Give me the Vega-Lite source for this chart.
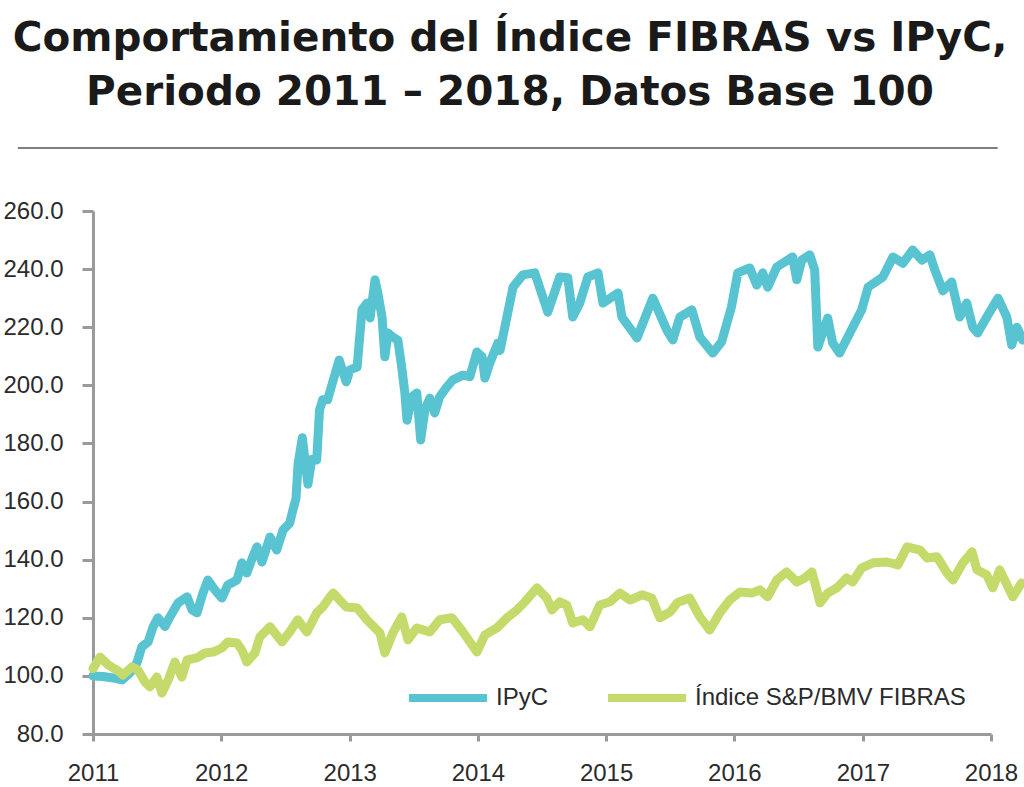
{
  "$schema": "https://vega.github.io/schema/vega-lite/v6.json",
  "autosize": {"type": "none"},
  "width": 898,
  "height": 523,
  "padding": {"left": 93, "top": 211, "right": 33, "bottom": 53},
  "background": "white",
  "title": {
    "text": ["Comportamiento del Índice FIBRAS vs IPyC,", "Periodo 2011 – 2018, Datos Base 100"],
    "font": "DejaVu Sans",
    "fontWeight": "bold",
    "fontSize": 40.5,
    "lineHeight": 54,
    "color": "#1a1a1a",
    "anchor": "middle",
    "dx": -32,
    "offset": 34
  },
  "config": {
    "view": {"stroke": null},
    "axis": {
      "domainColor": "#9a9a9a",
      "domainWidth": 3,
      "tickColor": "#9a9a9a",
      "tickWidth": 3,
      "grid": false,
      "labelFont": "Liberation Sans",
      "labelFontSize": 24,
      "labelColor": "#2b2b2b",
      "title": null
    },
    "legend": {
      "labelFont": "Liberation Sans",
      "labelFontSize": 24,
      "labelColor": "#2b2b2b",
      "labelLimit": 500
    }
  },
  "layer": [
    {
      "data": {"values": [{"x1": "2010-06-01", "x2": "2018-01-20", "y": 281.7}]},
      "mark": {"type": "rule", "color": "#555555", "strokeWidth": 1.5, "clip": false},
      "encoding": {
        "x": {"field": "x1", "type": "temporal", "scale": {"type": "utc"}},
        "x2": {"field": "x2"},
        "y": {"field": "y", "type": "quantitative"}
      }
    },
    {
      "data": {"values": [
        {"fecha": "2011-01-01", "serie": "IPyC", "valor": 100.0},
        {"fecha": "2011-01-29", "serie": "IPyC", "valor": 99.8},
        {"fecha": "2011-02-27", "serie": "IPyC", "valor": 99.3},
        {"fecha": "2011-03-25", "serie": "IPyC", "valor": 98.6},
        {"fecha": "2011-04-16", "serie": "IPyC", "valor": 101.0},
        {"fecha": "2011-05-06", "serie": "IPyC", "valor": 104.5},
        {"fecha": "2011-05-20", "serie": "IPyC", "valor": 110.0},
        {"fecha": "2011-06-07", "serie": "IPyC", "valor": 111.7},
        {"fecha": "2011-06-21", "serie": "IPyC", "valor": 116.9},
        {"fecha": "2011-07-05", "serie": "IPyC", "valor": 120.0},
        {"fecha": "2011-07-25", "serie": "IPyC", "valor": 117.0},
        {"fecha": "2011-08-08", "serie": "IPyC", "valor": 120.3},
        {"fecha": "2011-08-31", "serie": "IPyC", "valor": 125.1},
        {"fecha": "2011-09-26", "serie": "IPyC", "valor": 127.2},
        {"fecha": "2011-10-10", "serie": "IPyC", "valor": 122.7},
        {"fecha": "2011-10-24", "serie": "IPyC", "valor": 121.7},
        {"fecha": "2011-11-10", "serie": "IPyC", "valor": 128.5},
        {"fecha": "2011-11-24", "serie": "IPyC", "valor": 133.0},
        {"fecha": "2011-12-14", "serie": "IPyC", "valor": 129.6},
        {"fecha": "2012-01-03", "serie": "IPyC", "valor": 126.8},
        {"fecha": "2012-01-20", "serie": "IPyC", "valor": 131.3},
        {"fecha": "2012-02-15", "serie": "IPyC", "valor": 133.0},
        {"fecha": "2012-02-29", "serie": "IPyC", "valor": 138.9},
        {"fecha": "2012-03-14", "serie": "IPyC", "valor": 135.4},
        {"fecha": "2012-03-31", "serie": "IPyC", "valor": 141.0},
        {"fecha": "2012-04-12", "serie": "IPyC", "valor": 144.4},
        {"fecha": "2012-04-26", "serie": "IPyC", "valor": 139.2},
        {"fecha": "2012-05-19", "serie": "IPyC", "valor": 147.8},
        {"fecha": "2012-06-07", "serie": "IPyC", "valor": 143.3},
        {"fecha": "2012-06-25", "serie": "IPyC", "valor": 150.2},
        {"fecha": "2012-07-14", "serie": "IPyC", "valor": 152.6},
        {"fecha": "2012-07-23", "serie": "IPyC", "valor": 157.0},
        {"fecha": "2012-08-01", "serie": "IPyC", "valor": 161.0},
        {"fecha": "2012-08-07", "serie": "IPyC", "valor": 173.0},
        {"fecha": "2012-08-19", "serie": "IPyC", "valor": 182.0},
        {"fecha": "2012-08-27", "serie": "IPyC", "valor": 174.0},
        {"fecha": "2012-09-04", "serie": "IPyC", "valor": 166.0},
        {"fecha": "2012-09-15", "serie": "IPyC", "valor": 174.5},
        {"fecha": "2012-09-29", "serie": "IPyC", "valor": 174.3},
        {"fecha": "2012-10-07", "serie": "IPyC", "valor": 191.5},
        {"fecha": "2012-10-16", "serie": "IPyC", "valor": 195.0},
        {"fecha": "2012-10-30", "serie": "IPyC", "valor": 195.0},
        {"fecha": "2012-11-18", "serie": "IPyC", "valor": 203.0},
        {"fecha": "2012-12-02", "serie": "IPyC", "valor": 208.7},
        {"fecha": "2012-12-22", "serie": "IPyC", "valor": 201.2},
        {"fecha": "2013-01-02", "serie": "IPyC", "valor": 205.3},
        {"fecha": "2013-01-22", "serie": "IPyC", "valor": 206.3},
        {"fecha": "2013-02-05", "serie": "IPyC", "valor": 226.0},
        {"fecha": "2013-02-19", "serie": "IPyC", "valor": 228.3},
        {"fecha": "2013-02-28", "serie": "IPyC", "valor": 223.2},
        {"fecha": "2013-03-14", "serie": "IPyC", "valor": 236.3},
        {"fecha": "2013-03-22", "serie": "IPyC", "valor": 231.8},
        {"fecha": "2013-04-03", "serie": "IPyC", "valor": 223.5},
        {"fecha": "2013-04-11", "serie": "IPyC", "valor": 209.8},
        {"fecha": "2013-04-20", "serie": "IPyC", "valor": 218.0},
        {"fecha": "2013-05-04", "serie": "IPyC", "valor": 216.6},
        {"fecha": "2013-05-18", "serie": "IPyC", "valor": 215.6},
        {"fecha": "2013-05-29", "serie": "IPyC", "valor": 206.3},
        {"fecha": "2013-06-07", "serie": "IPyC", "valor": 197.4},
        {"fecha": "2013-06-13", "serie": "IPyC", "valor": 188.0},
        {"fecha": "2013-06-27", "serie": "IPyC", "valor": 196.0},
        {"fecha": "2013-07-11", "serie": "IPyC", "valor": 197.4},
        {"fecha": "2013-07-22", "serie": "IPyC", "valor": 181.2},
        {"fecha": "2013-08-03", "serie": "IPyC", "valor": 191.5},
        {"fecha": "2013-08-17", "serie": "IPyC", "valor": 195.6},
        {"fecha": "2013-08-31", "serie": "IPyC", "valor": 190.5},
        {"fecha": "2013-09-14", "serie": "IPyC", "valor": 196.0},
        {"fecha": "2013-10-04", "serie": "IPyC", "valor": 199.4},
        {"fecha": "2013-10-21", "serie": "IPyC", "valor": 201.8},
        {"fecha": "2013-11-19", "serie": "IPyC", "valor": 203.5},
        {"fecha": "2013-12-09", "serie": "IPyC", "valor": 203.0},
        {"fecha": "2013-12-29", "serie": "IPyC", "valor": 211.5},
        {"fecha": "2014-01-13", "serie": "IPyC", "valor": 209.8},
        {"fecha": "2014-01-21", "serie": "IPyC", "valor": 202.5},
        {"fecha": "2014-02-04", "serie": "IPyC", "valor": 207.7},
        {"fecha": "2014-02-27", "serie": "IPyC", "valor": 214.6},
        {"fecha": "2014-03-05", "serie": "IPyC", "valor": 212.0},
        {"fecha": "2014-04-11", "serie": "IPyC", "valor": 233.8},
        {"fecha": "2014-05-09", "serie": "IPyC", "valor": 238.0},
        {"fecha": "2014-06-12", "serie": "IPyC", "valor": 238.7},
        {"fecha": "2014-07-19", "serie": "IPyC", "valor": 225.2},
        {"fecha": "2014-08-22", "serie": "IPyC", "valor": 237.3},
        {"fecha": "2014-09-14", "serie": "IPyC", "valor": 237.0},
        {"fecha": "2014-09-28", "serie": "IPyC", "valor": 223.5},
        {"fecha": "2014-10-18", "serie": "IPyC", "valor": 228.3},
        {"fecha": "2014-11-10", "serie": "IPyC", "valor": 237.3},
        {"fecha": "2014-12-09", "serie": "IPyC", "valor": 238.7},
        {"fecha": "2014-12-23", "serie": "IPyC", "valor": 228.3},
        {"fecha": "2015-02-04", "serie": "IPyC", "valor": 231.8},
        {"fecha": "2015-02-15", "serie": "IPyC", "valor": 223.5},
        {"fecha": "2015-03-30", "serie": "IPyC", "valor": 216.3},
        {"fecha": "2015-05-14", "serie": "IPyC", "valor": 230.0},
        {"fecha": "2015-06-23", "serie": "IPyC", "valor": 219.0},
        {"fecha": "2015-07-10", "serie": "IPyC", "valor": 215.6},
        {"fecha": "2015-07-30", "serie": "IPyC", "valor": 223.5},
        {"fecha": "2015-09-02", "serie": "IPyC", "valor": 226.0},
        {"fecha": "2015-09-25", "serie": "IPyC", "valor": 216.6},
        {"fecha": "2015-11-01", "serie": "IPyC", "valor": 211.1},
        {"fecha": "2015-11-26", "serie": "IPyC", "valor": 215.0},
        {"fecha": "2015-12-24", "serie": "IPyC", "valor": 227.0},
        {"fecha": "2016-01-11", "serie": "IPyC", "valor": 238.7},
        {"fecha": "2016-02-14", "serie": "IPyC", "valor": 240.4},
        {"fecha": "2016-03-05", "serie": "IPyC", "valor": 234.5},
        {"fecha": "2016-03-22", "serie": "IPyC", "valor": 238.7},
        {"fecha": "2016-04-05", "serie": "IPyC", "valor": 233.8},
        {"fecha": "2016-05-01", "serie": "IPyC", "valor": 240.7},
        {"fecha": "2016-06-15", "serie": "IPyC", "valor": 244.2},
        {"fecha": "2016-06-27", "serie": "IPyC", "valor": 236.3},
        {"fecha": "2016-07-11", "serie": "IPyC", "valor": 243.1},
        {"fecha": "2016-08-03", "serie": "IPyC", "valor": 244.9},
        {"fecha": "2016-08-17", "serie": "IPyC", "valor": 239.7},
        {"fecha": "2016-08-26", "serie": "IPyC", "valor": 213.2},
        {"fecha": "2016-09-23", "serie": "IPyC", "valor": 223.2},
        {"fecha": "2016-10-07", "serie": "IPyC", "valor": 214.6},
        {"fecha": "2016-10-27", "serie": "IPyC", "valor": 211.1},
        {"fecha": "2016-11-25", "serie": "IPyC", "valor": 218.0},
        {"fecha": "2016-12-29", "serie": "IPyC", "valor": 226.0},
        {"fecha": "2017-01-16", "serie": "IPyC", "valor": 233.8},
        {"fecha": "2017-02-27", "serie": "IPyC", "valor": 237.3},
        {"fecha": "2017-03-28", "serie": "IPyC", "valor": 244.2},
        {"fecha": "2017-04-25", "serie": "IPyC", "valor": 242.0},
        {"fecha": "2017-05-23", "serie": "IPyC", "valor": 246.6},
        {"fecha": "2017-06-18", "serie": "IPyC", "valor": 243.1},
        {"fecha": "2017-07-11", "serie": "IPyC", "valor": 244.9},
        {"fecha": "2017-07-25", "serie": "IPyC", "valor": 239.7},
        {"fecha": "2017-08-17", "serie": "IPyC", "valor": 232.5},
        {"fecha": "2017-09-11", "serie": "IPyC", "valor": 235.6},
        {"fecha": "2017-10-04", "serie": "IPyC", "valor": 223.5},
        {"fecha": "2017-10-24", "serie": "IPyC", "valor": 228.3},
        {"fecha": "2017-11-10", "serie": "IPyC", "valor": 220.0},
        {"fecha": "2017-11-24", "serie": "IPyC", "valor": 218.0},
        {"fecha": "2017-12-20", "serie": "IPyC", "valor": 223.5},
        {"fecha": "2018-01-21", "serie": "IPyC", "valor": 230.0},
        {"fecha": "2018-02-15", "serie": "IPyC", "valor": 223.5},
        {"fecha": "2018-03-01", "serie": "IPyC", "valor": 213.9},
        {"fecha": "2018-03-16", "serie": "IPyC", "valor": 220.0},
        {"fecha": "2018-04-01", "serie": "IPyC", "valor": 215.6},

        {"fecha": "2011-01-01", "serie": "Índice S&P/BMV FIBRAS", "valor": 102.5},
        {"fecha": "2011-01-21", "serie": "Índice S&P/BMV FIBRAS", "valor": 106.5},
        {"fecha": "2011-02-13", "serie": "Índice S&P/BMV FIBRAS", "valor": 103.8},
        {"fecha": "2011-03-10", "serie": "Índice S&P/BMV FIBRAS", "valor": 102.0},
        {"fecha": "2011-03-27", "serie": "Índice S&P/BMV FIBRAS", "valor": 100.3},
        {"fecha": "2011-04-22", "serie": "Índice S&P/BMV FIBRAS", "valor": 103.1},
        {"fecha": "2011-05-09", "serie": "Índice S&P/BMV FIBRAS", "valor": 102.0},
        {"fecha": "2011-05-29", "serie": "Índice S&P/BMV FIBRAS", "valor": 97.9},
        {"fecha": "2011-06-12", "serie": "Índice S&P/BMV FIBRAS", "valor": 96.2},
        {"fecha": "2011-07-02", "serie": "Índice S&P/BMV FIBRAS", "valor": 99.6},
        {"fecha": "2011-07-16", "serie": "Índice S&P/BMV FIBRAS", "valor": 94.1},
        {"fecha": "2011-08-03", "serie": "Índice S&P/BMV FIBRAS", "valor": 98.6},
        {"fecha": "2011-08-22", "serie": "Índice S&P/BMV FIBRAS", "valor": 104.8},
        {"fecha": "2011-09-11", "serie": "Índice S&P/BMV FIBRAS", "valor": 99.6},
        {"fecha": "2011-09-26", "serie": "Índice S&P/BMV FIBRAS", "valor": 105.5},
        {"fecha": "2011-10-24", "serie": "Índice S&P/BMV FIBRAS", "valor": 106.2},
        {"fecha": "2011-11-16", "serie": "Índice S&P/BMV FIBRAS", "valor": 107.9},
        {"fecha": "2011-12-09", "serie": "Índice S&P/BMV FIBRAS", "valor": 108.2},
        {"fecha": "2012-01-03", "serie": "Índice S&P/BMV FIBRAS", "valor": 109.6},
        {"fecha": "2012-01-20", "serie": "Índice S&P/BMV FIBRAS", "valor": 111.7},
        {"fecha": "2012-02-15", "serie": "Índice S&P/BMV FIBRAS", "valor": 111.3},
        {"fecha": "2012-02-29", "serie": "Índice S&P/BMV FIBRAS", "valor": 108.9},
        {"fecha": "2012-03-14", "serie": "Índice S&P/BMV FIBRAS", "valor": 104.8},
        {"fecha": "2012-04-06", "serie": "Índice S&P/BMV FIBRAS", "valor": 107.9},
        {"fecha": "2012-04-20", "serie": "Índice S&P/BMV FIBRAS", "valor": 113.4},
        {"fecha": "2012-05-19", "serie": "Índice S&P/BMV FIBRAS", "valor": 116.9},
        {"fecha": "2012-06-22", "serie": "Índice S&P/BMV FIBRAS", "valor": 111.7},
        {"fecha": "2012-07-14", "serie": "Índice S&P/BMV FIBRAS", "valor": 115.1},
        {"fecha": "2012-08-06", "serie": "Índice S&P/BMV FIBRAS", "valor": 119.3},
        {"fecha": "2012-09-01", "serie": "Índice S&P/BMV FIBRAS", "valor": 115.1},
        {"fecha": "2012-09-29", "serie": "Índice S&P/BMV FIBRAS", "valor": 121.7},
        {"fecha": "2012-10-16", "serie": "Índice S&P/BMV FIBRAS", "valor": 123.7},
        {"fecha": "2012-11-06", "serie": "Índice S&P/BMV FIBRAS", "valor": 127.2},
        {"fecha": "2012-11-15", "serie": "Índice S&P/BMV FIBRAS", "valor": 128.5},
        {"fecha": "2012-12-22", "serie": "Índice S&P/BMV FIBRAS", "valor": 123.7},
        {"fecha": "2013-01-22", "serie": "Índice S&P/BMV FIBRAS", "valor": 123.4},
        {"fecha": "2013-02-19", "serie": "Índice S&P/BMV FIBRAS", "valor": 119.3},
        {"fecha": "2013-03-20", "serie": "Índice S&P/BMV FIBRAS", "valor": 115.8},
        {"fecha": "2013-03-28", "serie": "Índice S&P/BMV FIBRAS", "valor": 114.8},
        {"fecha": "2013-04-11", "serie": "Índice S&P/BMV FIBRAS", "valor": 107.9},
        {"fecha": "2013-05-04", "serie": "Índice S&P/BMV FIBRAS", "valor": 114.8},
        {"fecha": "2013-05-29", "serie": "Índice S&P/BMV FIBRAS", "valor": 120.3},
        {"fecha": "2013-06-16", "serie": "Índice S&P/BMV FIBRAS", "valor": 112.4},
        {"fecha": "2013-07-11", "serie": "Índice S&P/BMV FIBRAS", "valor": 116.5},
        {"fecha": "2013-08-17", "serie": "Índice S&P/BMV FIBRAS", "valor": 115.1},
        {"fecha": "2013-09-14", "serie": "Índice S&P/BMV FIBRAS", "valor": 119.3},
        {"fecha": "2013-10-19", "serie": "Índice S&P/BMV FIBRAS", "valor": 120.0},
        {"fecha": "2013-11-19", "serie": "Índice S&P/BMV FIBRAS", "valor": 115.2},
        {"fecha": "2013-12-29", "serie": "Índice S&P/BMV FIBRAS", "valor": 108.2},
        {"fecha": "2014-01-21", "serie": "Índice S&P/BMV FIBRAS", "valor": 114.1},
        {"fecha": "2014-02-24", "serie": "Índice S&P/BMV FIBRAS", "valor": 116.5},
        {"fecha": "2014-03-25", "serie": "Índice S&P/BMV FIBRAS", "valor": 120.0},
        {"fecha": "2014-04-22", "serie": "Índice S&P/BMV FIBRAS", "valor": 122.7},
        {"fecha": "2014-05-15", "serie": "Índice S&P/BMV FIBRAS", "valor": 125.5},
        {"fecha": "2014-06-18", "serie": "Índice S&P/BMV FIBRAS", "valor": 130.3},
        {"fecha": "2014-07-16", "serie": "Índice S&P/BMV FIBRAS", "valor": 126.8},
        {"fecha": "2014-07-31", "serie": "Índice S&P/BMV FIBRAS", "valor": 122.7},
        {"fecha": "2014-08-22", "serie": "Índice S&P/BMV FIBRAS", "valor": 125.5},
        {"fecha": "2014-09-11", "serie": "Índice S&P/BMV FIBRAS", "valor": 124.4},
        {"fecha": "2014-09-28", "serie": "Índice S&P/BMV FIBRAS", "valor": 118.2},
        {"fecha": "2014-10-27", "serie": "Índice S&P/BMV FIBRAS", "valor": 119.3},
        {"fecha": "2014-11-16", "serie": "Índice S&P/BMV FIBRAS", "valor": 116.9},
        {"fecha": "2014-12-14", "serie": "Índice S&P/BMV FIBRAS", "valor": 124.4},
        {"fecha": "2015-01-12", "serie": "Índice S&P/BMV FIBRAS", "valor": 125.5},
        {"fecha": "2015-02-09", "serie": "Índice S&P/BMV FIBRAS", "valor": 128.5},
        {"fecha": "2015-03-10", "serie": "Índice S&P/BMV FIBRAS", "valor": 126.1},
        {"fecha": "2015-04-13", "serie": "Índice S&P/BMV FIBRAS", "valor": 127.9},
        {"fecha": "2015-05-11", "serie": "Índice S&P/BMV FIBRAS", "valor": 126.8},
        {"fecha": "2015-06-03", "serie": "Índice S&P/BMV FIBRAS", "valor": 120.0},
        {"fecha": "2015-07-02", "serie": "Índice S&P/BMV FIBRAS", "valor": 122.0},
        {"fecha": "2015-07-24", "serie": "Índice S&P/BMV FIBRAS", "valor": 125.3},
        {"fecha": "2015-08-27", "serie": "Índice S&P/BMV FIBRAS", "valor": 126.8},
        {"fecha": "2015-09-25", "serie": "Índice S&P/BMV FIBRAS", "valor": 120.3},
        {"fecha": "2015-10-23", "serie": "Índice S&P/BMV FIBRAS", "valor": 115.8},
        {"fecha": "2015-11-21", "serie": "Índice S&P/BMV FIBRAS", "valor": 121.7},
        {"fecha": "2015-12-19", "serie": "Índice S&P/BMV FIBRAS", "valor": 126.1},
        {"fecha": "2016-01-17", "serie": "Índice S&P/BMV FIBRAS", "valor": 128.9},
        {"fecha": "2016-02-20", "serie": "Índice S&P/BMV FIBRAS", "valor": 128.5},
        {"fecha": "2016-03-14", "serie": "Índice S&P/BMV FIBRAS", "valor": 129.6},
        {"fecha": "2016-04-05", "serie": "Índice S&P/BMV FIBRAS", "valor": 127.2},
        {"fecha": "2016-05-01", "serie": "Índice S&P/BMV FIBRAS", "valor": 133.0},
        {"fecha": "2016-05-29", "serie": "Índice S&P/BMV FIBRAS", "valor": 135.8},
        {"fecha": "2016-06-27", "serie": "Índice S&P/BMV FIBRAS", "valor": 132.3},
        {"fecha": "2016-07-20", "serie": "Índice S&P/BMV FIBRAS", "valor": 133.7},
        {"fecha": "2016-08-09", "serie": "Índice S&P/BMV FIBRAS", "valor": 135.8},
        {"fecha": "2016-08-23", "serie": "Índice S&P/BMV FIBRAS", "valor": 129.6},
        {"fecha": "2016-09-01", "serie": "Índice S&P/BMV FIBRAS", "valor": 125.1},
        {"fecha": "2016-09-23", "serie": "Índice S&P/BMV FIBRAS", "valor": 128.5},
        {"fecha": "2016-10-19", "serie": "Índice S&P/BMV FIBRAS", "valor": 130.3},
        {"fecha": "2016-11-16", "serie": "Índice S&P/BMV FIBRAS", "valor": 133.7},
        {"fecha": "2016-12-03", "serie": "Índice S&P/BMV FIBRAS", "valor": 132.3},
        {"fecha": "2016-12-29", "serie": "Índice S&P/BMV FIBRAS", "valor": 137.2},
        {"fecha": "2017-01-30", "serie": "Índice S&P/BMV FIBRAS", "valor": 138.9},
        {"fecha": "2017-03-11", "serie": "Índice S&P/BMV FIBRAS", "valor": 139.2},
        {"fecha": "2017-04-11", "serie": "Índice S&P/BMV FIBRAS", "valor": 138.2},
        {"fecha": "2017-05-07", "serie": "Índice S&P/BMV FIBRAS", "valor": 144.4},
        {"fecha": "2017-06-13", "serie": "Índice S&P/BMV FIBRAS", "valor": 143.3},
        {"fecha": "2017-07-03", "serie": "Índice S&P/BMV FIBRAS", "valor": 140.6},
        {"fecha": "2017-07-31", "serie": "Índice S&P/BMV FIBRAS", "valor": 141.0},
        {"fecha": "2017-08-29", "serie": "Índice S&P/BMV FIBRAS", "valor": 135.4},
        {"fecha": "2017-09-15", "serie": "Índice S&P/BMV FIBRAS", "valor": 133.0},
        {"fecha": "2017-10-13", "serie": "Índice S&P/BMV FIBRAS", "valor": 138.9},
        {"fecha": "2017-11-08", "serie": "Índice S&P/BMV FIBRAS", "valor": 142.7},
        {"fecha": "2017-11-22", "serie": "Índice S&P/BMV FIBRAS", "valor": 136.5},
        {"fecha": "2017-12-20", "serie": "Índice S&P/BMV FIBRAS", "valor": 134.7},
        {"fecha": "2018-01-06", "serie": "Índice S&P/BMV FIBRAS", "valor": 130.3},
        {"fecha": "2018-01-26", "serie": "Índice S&P/BMV FIBRAS", "valor": 136.5},
        {"fecha": "2018-03-04", "serie": "Índice S&P/BMV FIBRAS", "valor": 127.2},
        {"fecha": "2018-03-29", "serie": "Índice S&P/BMV FIBRAS", "valor": 132.0}
      ]},
      "mark": {"type": "line", "strokeWidth": 9, "strokeJoin": "round", "strokeCap": "round", "clip": false},
      "encoding": {
        "x": {
          "field": "fecha",
          "type": "temporal",
          "scale": {"type": "utc", "domain": [{"year": 2011, "month": 1, "date": 1, "utc": true}, {"year": 2018, "month": 1, "date": 1, "utc": true}]},
          "axis": {
            "format": "%Y",
            "tickCount": {"interval": "year", "step": 1},
            "tickSize": 7,
            "labelPadding": 20,
            "labelFlush": false,
            "labelOverlap": false
          }
        },
        "y": {
          "field": "valor",
          "type": "quantitative",
          "scale": {"domain": [80, 260], "nice": false, "zero": false},
          "axis": {
            "values": [80, 100, 120, 140, 160, 180, 200, 220, 240, 260],
            "format": ".1f",
            "tickSize": 11,
            "labelPadding": 19
          }
        },
        "color": {
          "field": "serie",
          "type": "nominal",
          "sort": ["IPyC", "Índice S&P/BMV FIBRAS"],
          "scale": {"domain": ["IPyC", "Índice S&P/BMV FIBRAS"], "range": ["#58c3d1", "#c4da6b"]},
          "legend": {
            "title": null,
            "orient": "none",
            "legendX": 312,
            "legendY": 444,
            "direction": "horizontal",
            "symbolType": "stroke",
            "symbolSize": 6084,
            "symbolStrokeWidth": 8,
            "labelOffset": 5,
            "columnPadding": 43
          }
        }
      }
    }
  ]
}
